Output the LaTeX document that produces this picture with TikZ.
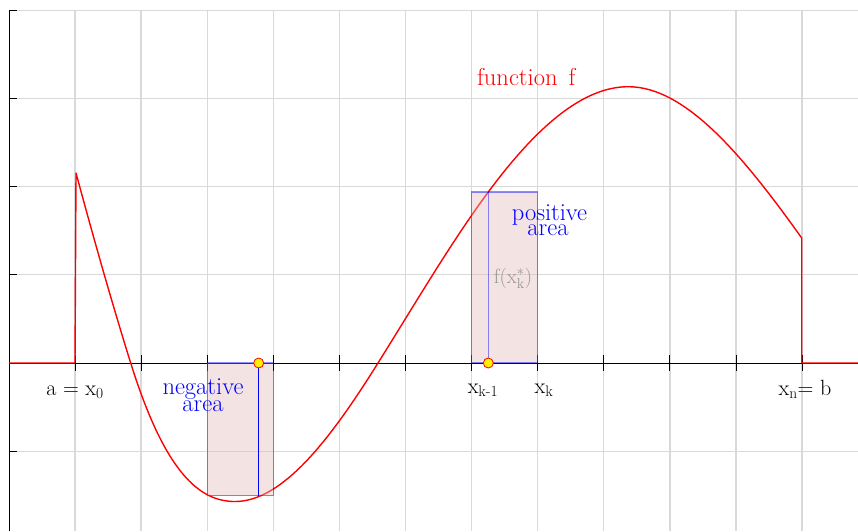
\documentclass[tikz,border=0pt]{standalone}
\begin{document}
\begin{tikzpicture}[x=1pt,y=-1pt,
  gridline/.style={draw={rgb,255:red,217;green,217;blue,217},line width=1.3pt},
  axisline/.style={draw=black,line width=1pt},
  curve/.style={draw=red,line width=1.4pt,line join=round},
  rectbox/.style={fill={rgb,255:red,225;green,185;blue,185},fill opacity=0.4,draw=blue,draw opacity=0.45,line width=1.3pt},
  sampledot/.style={circle,fill=yellow,draw=red,line width=0.8pt,inner sep=0pt,minimum size=10pt},
  lbl/.style={font=\fontsize{22}{17}\selectfont,inner sep=0pt,anchor=base},
  biglbl/.style={lbl,font=\fontsize{24.5}{17}\selectfont},
  bluelbl/.style={biglbl,text=blue},
]
\useasboundingbox (0,0) rectangle (858,531);
\fill[white] (0,0) rectangle (858,531);
% grid
\foreach \i in {0,...,11} {
  \draw[gridline] ({75+66.1*\i},10.2) -- ({75+66.1*\i},531);
}
\foreach \y in {10.2,98.4,186.6,274.8,451.2} {
  \draw[gridline] (9,\y) -- (858,\y);
}
% axes
\draw[axisline] (9,10.2) -- (9,531);
\draw[axisline] (9,363) -- (858,363);
\foreach \y in {10.2,98.4,186.6,274.8,451.2} {
  \draw[axisline] (9,\y) -- (17,\y);
}
\foreach \i in {0,...,11} {
  \draw[axisline] ({75+66.1*\i},355) -- ({75+66.1*\i},371);
}
% function
\draw[curve] (9,363) -- (75,363) -- (76,173)
  .. controls (94.23,240.5) and (112.47,304.7) .. (130.7,363)
  .. controls (165.47,474.3) and (200.23,501.5) .. (235,501.5)
  .. controls (282.67,501.5) and (330.33,439.3) .. (378,363)
  .. controls (414.77,304.2) and (451.53,241.6) .. (488.3,192)
  .. controls (534.97,129.0) and (581.63,86.7) .. (628.3,86.7)
  .. controls (686.1,86.7) and (743.9,157.1) .. (801.7,238)
  -- (801.7,363) -- (858,363);
% rectangles
\draw[rectbox] (207.2,363) rectangle (273.3,495.5);
\draw[draw=blue,line width=1.4pt] (258.7,363) -- (258.7,495.5);
\draw[rectbox] (471.4,192) rectangle (537.5,363);
\draw[draw=blue,draw opacity=0.45,line width=1.3pt] (488.3,363) -- (488.3,192);
\node[sampledot] (d1) at (258.7,363) {};
\node[sampledot] (d2) at (488.3,363) {};
% labels
\node[biglbl,text=red,anchor=base west] (fn) at (477,85) {function\hspace{0.45em}f};
\node[bluelbl] (pos1) at (549.5,220) {positive};
\node[bluelbl] (pos2) at (548,235.7) {area};
\node[bluelbl] (neg1) at (203,394.3) {negative};
\node[bluelbl] (neg2) at (203,411.7) {area};
\node[lbl,text={rgb,255:red,150;green,150;blue,150},font=\fontsize{20.5}{20}\selectfont] (fx) at (513,283.3) {f(x$^{\mathrm{*}}_{\mathrm{k}}$)};
\node[lbl] (x0) at (75,395.7) {a = x\textsubscript{0}};
\node[lbl] (xk1) at (483,393.3) {x\textsubscript{k-1}};
\node[lbl] (xk) at (544,393.3) {x\textsubscript{k}};
\node[lbl] (xn) at (805,395.7) {x\textsubscript{n}= b};
\end{tikzpicture}
\end{document}
